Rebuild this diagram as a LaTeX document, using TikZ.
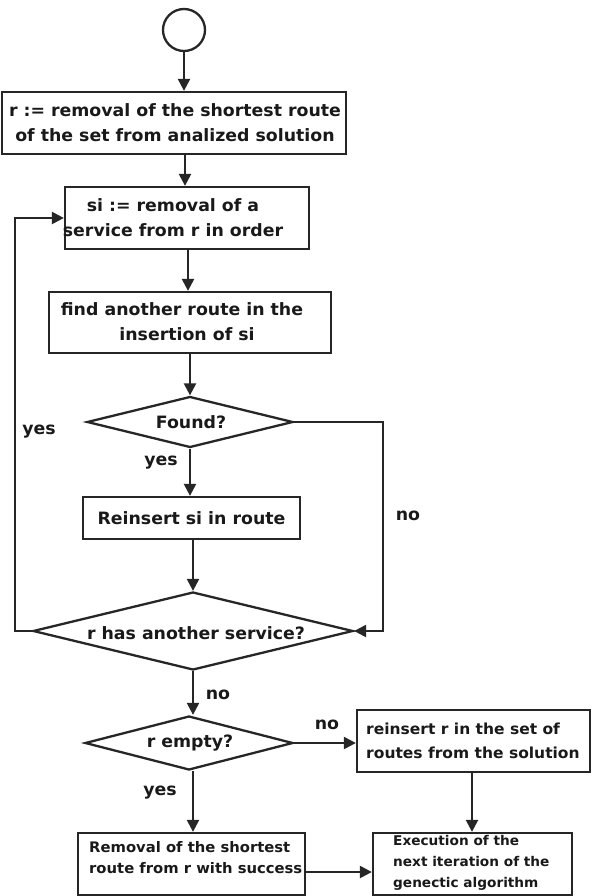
\documentclass[tikz,border=0pt]{standalone}
\usepackage{fontspec}
\setmainfont{DejaVu Sans}[FakeStretch=1.02]
\usetikzlibrary{arrows.meta,shapes.geometric}
\newcommand\flowtxt{\fontsize{17}{25}\selectfont\bfseries}
\newcommand\midtxt{\fontsize{15.2}{24}\selectfont\bfseries}
\newcommand\smalltxt{\fontsize{14.5}{21}\selectfont\bfseries}
\newcommand\tinytxt{\fontsize{13.4}{21}\selectfont\bfseries}
\begin{document}
\begin{tikzpicture}[x=1pt,y=-1pt,
  pbox/.style={draw=black!85, line width=2.3pt, rectangle, inner sep=0pt},
  dbox/.style={draw=black!85, line width=2.3pt, diamond, inner sep=0pt},
  txt/.style={inner sep=0pt, font=\flowtxt, text=black!90},
  flow/.style={draw=black!85, line width=2.3pt, -{Triangle[length=12pt,width=12pt]}}]
\useasboundingbox (0,0) rectangle (592,896);
\fill[white] (0,0) rectangle (592,896);

% start
\node[draw=black!85, line width=2.3pt, circle, minimum size=42pt, inner sep=0pt] (start) at (184,30) {};

% process boxes and decisions
\node[pbox, minimum width=344pt, minimum height=62pt] (b1) at (174,123) {};
\node[txt, align=center] (t1) at (175,123) {r := removal of the shortest route\\of the set from analized solution};

\node[pbox, minimum width=244pt, minimum height=62pt] (b2) at (187,218) {};
\node[txt, align=center] (t2) at (173,218) {si := removal of a\\service from r in order};

\node[pbox, minimum width=282pt, minimum height=61pt] (b3) at (190,322.5) {};
\node[txt, align=center] (t3) at (182,322) {find another route in the\\\hspace*{10pt}insertion of si};

\node[dbox, minimum width=206pt, minimum height=51pt] (d1) at (190,422) {};
\node[txt] (t4) at (191,422) {Found?};

\node[pbox, minimum width=217pt, minimum height=42pt] (b4) at (191.5,518) {};
\node[txt] (t5) at (191.5,518) {Reinsert si in route};

\node[dbox, minimum width=320pt, minimum height=78pt] (d2) at (193,631) {};
\node[txt] (t6) at (196,633) {r has another service?};

\node[dbox, minimum width=208pt, minimum height=54pt] (d3) at (189,743) {};
\node[txt] (t7) at (190,743) {r empty?};

\node[pbox, minimum width=233pt, minimum height=62pt] (b5) at (473.5,741) {};
\node[txt, font=\midtxt, align=left, anchor=west] (t8) at (366,741) {reinsert r in the set of\\routes from the solution};

\node[pbox, minimum width=227pt, minimum height=62pt] (b6) at (191.5,864) {};
\node[txt, font=\smalltxt, align=left, anchor=north west] (t9) at (89,841) {Removal of the shortest\\route from r with success};

\node[pbox, minimum width=199pt, minimum height=62pt] (b7) at (472.5,864) {};
\node[txt, font=\tinytxt, align=left, anchor=north west] (t10) at (393,835) {Execution of the\\next iteration of the\\genectic algorithm};

% loop-back corners
\coordinate (lx) at (15,218);
\coordinate (rx) at (383,422);

% connectors
\draw[flow] (start.south) -- (b1.north -| start.south);
\draw[flow] (b1.south -| 185,0) -- (b2.north -| 185,0);
\draw[flow] (b2.south -| 188,0) -- (b3.north -| 188,0);
\draw[flow] (b3.south -| 190,0) -- (d1.north);
\draw[flow] (d1.south) -- (d1.south |- b4.north);
\draw[flow] (b4.south -| 193,0) -- (d2.north);
\draw[flow] (d1.east) -- (rx) |- (d2.east);
\draw[flow] (d2.west) -| (lx) -- (b2.west);
\draw[flow] (d2.south) -- (d3.north -| d2.south);
\draw[flow] (d3.east) -- (b5.west |- d3.east);
\draw[flow] (d3.south -| 193,0) -- (b6.north -| 193,0);
\draw[flow] (b5.south -| 472,0) -- (b7.north -| 472,0);
\draw[flow] (b6.east |- 0,872) -- (b7.west |- 0,872);

% branch labels
\node[txt] (l1) at (39,432) {yes};
\node[txt] (l2) at (161,463) {yes};
\node[txt] (l3) at (408,516) {no};
\node[txt] (l4) at (218,695) {no};
\node[txt] (l5) at (327,725) {no};
\node[txt] (l6) at (160,793) {yes};
\end{tikzpicture}
\end{document}
